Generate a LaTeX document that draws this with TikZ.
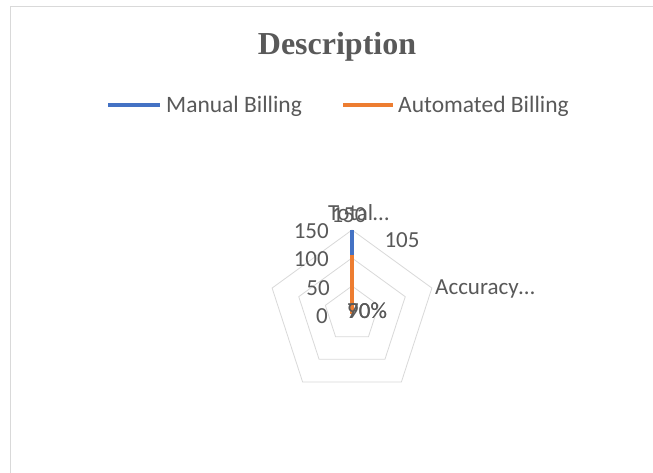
\documentclass[tikz,border=0pt]{standalone}
\usepackage{fontspec}
\setmainfont{Carlito}
\newfontfamily\titlefont{Liberation Serif}
\definecolor{txt}{HTML}{595959}
\definecolor{gridc}{HTML}{D9D9D9}
\definecolor{frm}{HTML}{D9D9D9}
\definecolor{serA}{HTML}{4472C4}
\definecolor{serB}{HTML}{ED7D31}
\tikzset{
  lbl/.style={text=txt, inner sep=0pt, font=\fontsize{23}{23}\selectfont},
  leglbl/.style={text=txt, inner sep=0pt, anchor=west, font=\fontsize{23.5}{23.5}\selectfont},
  ring/.style={draw=gridc, line width=0.8pt},
  serline/.style={line width=3.2pt},
  frame/.style={draw=frm, line width=1.5pt}
}
\begin{document}
\begin{tikzpicture}[x=1pt,y=-1pt]
\useasboundingbox (0,0) rectangle (653,473);
\fill[white] (0,0) rectangle (653,473);
\draw[frame] (10.5,473) -- (10.5,6.5) -- (653,6.5);
% title
\node[text=txt, inner sep=0pt, font=\titlefont\bfseries\fontsize{32}{32}\selectfont] (title) at (337,47) {Description};
% legend
\coordinate (la1) at (108,105); \coordinate (la2) at (160,105);
\coordinate (lb1) at (343,105); \coordinate (lb2) at (393,105);
\draw[serline, serA] (la1) -- (la2);
\draw[serline, serB] (lb1) -- (lb2);
\node[leglbl] (legA) at (166,106) {Manual Billing};
\node[leglbl] (legB) at (398,106) {Automated Billing};
% rings
\foreach \r in {28,56,84}{
  \draw[ring] (352,{314-\r}) -- ({352+0.951*\r},{314-0.309*\r}) -- ({352+0.588*\r},{314+0.809*\r})
    -- ({352-0.588*\r},{314+0.809*\r}) -- ({352-0.951*\r},{314-0.309*\r}) -- cycle;
}
% tick labels
\node[lbl, anchor=east] (t150) at (329,231) {150};
\node[lbl, anchor=east] (t100) at (329,259) {100};
\node[lbl, anchor=east] (t50) at (330,288) {50};
\node[lbl, anchor=east] (t0) at (328,316) {0};
% data
\coordinate (c) at (352,314);
\coordinate (pA) at (352,230);
\coordinate (pB) at (352,255.2);
\draw[serline, serA] (c) -- (pA);
\draw[serline, serB] (c) -- (pB);
% category labels
\node[lbl, anchor=west] (cat1) at (328,213) {Total…};
\node[lbl, anchor=west] (cat2) at (435,289) {Accuracy…};
% data labels
\node[lbl] (d150) at (349,215) {150};
\node[lbl] (d105) at (402,240) {105};
\node[lbl, anchor=west] (d90) at (347,311) {90\%};
\node[lbl, anchor=west] (d70) at (347,311) {70\%};
\end{tikzpicture}
\end{document}
